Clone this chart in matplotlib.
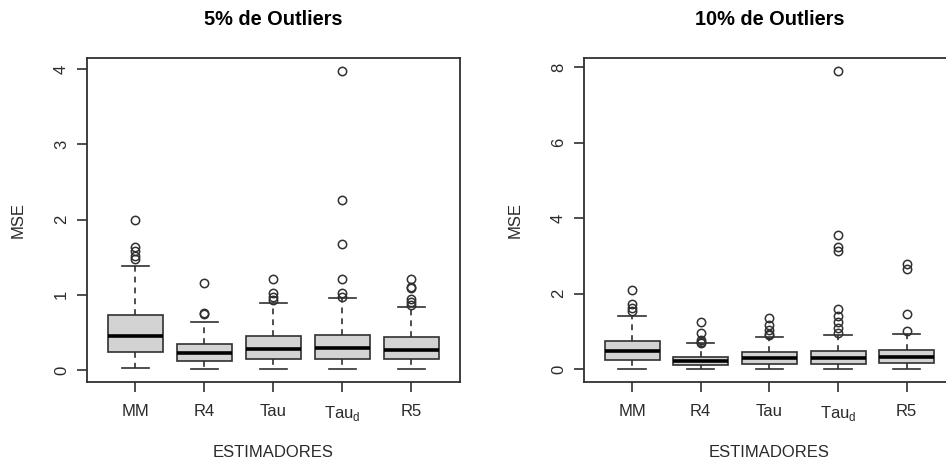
import matplotlib
matplotlib.use("Agg")
import matplotlib.pyplot as plt

plt.rcParams["font.family"] = ["Liberation Sans", "DejaVu Sans"]
plt.rcParams["mathtext.fontset"] = "custom"
plt.rcParams["mathtext.rm"] = "Liberation Sans"

ESTIMADORES = ["MM", "R4", "Tau", r"Tau$_\mathrm{d}$", "R5"]

# resumen de cada caja: (whislo, q1, med, q3, whishi)
RESUMEN_5 = [
    (0.02, 0.244, 0.457, 0.731, 1.387),
    (0.01, 0.12, 0.22, 0.34, 0.643),
    (0.01, 0.146, 0.275, 0.452, 0.887),
    (0.01, 0.146, 0.29, 0.465, 0.953),
    (0.01, 0.146, 0.266, 0.434, 0.842),
]
ATIPICOS_5 = [
    [1.47, 1.51, 1.58, 1.64, 2.0],
    [0.74, 0.755, 1.16],
    [0.93, 0.975, 1.02, 1.206],
    [0.975, 1.02, 1.206, 1.676, 2.26, 3.976],
    [0.87, 0.91, 0.95, 1.086, 1.108, 1.206],
]

RESUMEN_10 = [
    (0.0, 0.24, 0.48, 0.75, 1.40),
    (0.0, 0.106, 0.212, 0.318, 0.68),
    (0.0, 0.12, 0.28, 0.44, 0.856),
    (0.0, 0.12, 0.28, 0.477, 0.90),
    (0.0, 0.168, 0.31, 0.503, 0.927),
]
ATIPICOS_10 = [
    [1.54, 1.61, 1.71, 2.09],
    [0.70, 0.72, 0.76, 0.95, 1.25],
    [0.90, 0.94, 1.04, 1.16, 1.36],
    [0.95, 1.09, 1.24, 1.40, 1.59, 3.12, 3.22, 3.54, 7.90],
    [1.01, 1.46, 2.65, 2.78],
]

TICKS_5 = [0, 1, 2, 3, 4]
TICKS_10 = [0, 2, 4, 6, 8]

GRIS = "#303030"
RELLENO = "#d3d3d3"


def stats(resumen, atipicos):
    out = []
    for (lo, q1, med, q3, hi), fl in zip(resumen, atipicos):
        out.append({"whislo": lo, "q1": q1, "med": med, "q3": q3,
                    "whishi": hi, "fliers": fl})
    return out


def panel(ax, resumen, atipicos, ticks, ylim, titulo):
    ax.bxp(stats(resumen, atipicos), positions=range(1, 6), widths=0.8,
           capwidths=0.4, patch_artist=True, manage_ticks=False,
           boxprops=dict(facecolor=RELLENO, edgecolor=GRIS, linewidth=1.2),
           medianprops=dict(color="black", linewidth=2.6, solid_capstyle="butt"),
           whiskerprops=dict(color=GRIS, linewidth=1.2, linestyle=(0, (3.5, 3))),
           capprops=dict(color=GRIS, linewidth=1.2),
           flierprops=dict(marker="o", markerfacecolor="none",
                           markeredgecolor=GRIS, markersize=6, markeredgewidth=1.1))
    ax.set_xlim(0.3, 5.7)
    ax.set_ylim(*ylim)
    ax.set_xticks(range(1, 6))
    ax.set_xticklabels(ESTIMADORES)
    ax.set_yticks(ticks)
    ax.set_yticklabels([str(t) for t in ticks])
    for t in ax.get_yticklabels():
        t.set_rotation(90)
        t.set_va("center")
    ax.tick_params(axis="both", length=7, width=1.2, color=GRIS,
                   labelsize=12, labelcolor="#2a2a2a")
    ax.tick_params(axis="x", pad=9)
    ax.tick_params(axis="y", pad=6)
    for s in ax.spines.values():
        s.set_color(GRIS)
        s.set_linewidth(1.3)
    ax.set_title(titulo, fontsize=14.4, fontweight="bold", y=1.12, pad=0,
                 va="center")
    ax.set_xlabel("ESTIMADORES", fontsize=12, color="#2a2a2a", va="center")
    ax.xaxis.set_label_coords(0.5, -0.219)
    ax.set_ylabel("MSE", fontsize=12, color="#2a2a2a", va="center")
    ax.yaxis.set_label_coords(-0.185, 0.5)


fig = plt.figure(figsize=(9.46, 4.68), dpi=100)
ax1 = fig.add_axes([0.092, 0.1838, 0.394, 0.6923])
ax2 = fig.add_axes([0.6173, 0.1838, 0.392, 0.6923])

panel(ax1, RESUMEN_5, ATIPICOS_5, TICKS_5, (-0.16, 4.15), "5% de Outliers")
panel(ax2, RESUMEN_10, ATIPICOS_10, TICKS_10, (-0.344, 8.24), "10% de Outliers")

fig.savefig("out.png", dpi=100)
